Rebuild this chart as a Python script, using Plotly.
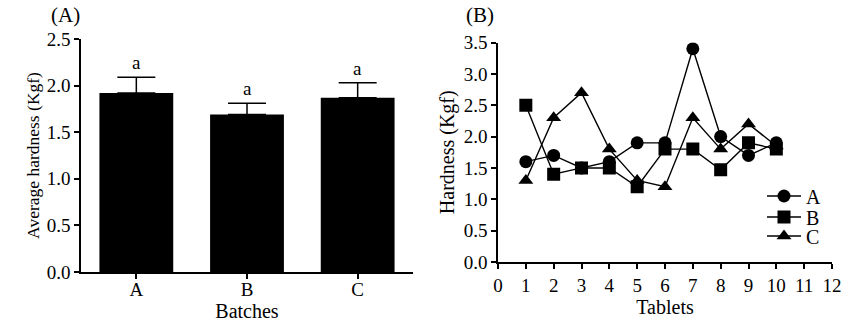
import plotly.graph_objects as go

# Panel A data
batches = ["A", "B", "C"]
avg_hardness = [1.92, 1.69, 1.87]
avg_err = [0.17, 0.12, 0.16]
sig_letters = ["a", "a", "a"]

# Panel B data
tablets = [1, 2, 3, 4, 5, 6, 7, 8, 9, 10]
hard_A = [1.6, 1.7, 1.5, 1.6, 1.9, 1.9, 3.4, 2.0, 1.7, 1.9]
hard_B = [2.5, 1.4, 1.5, 1.5, 1.2, 1.8, 1.8, 1.47, 1.9, 1.8]
hard_C = [1.3, 2.3, 2.7, 1.8, 1.3, 1.2, 2.3, 1.8, 2.2, 1.85]
series_names = ["A", "B", "C"]

W, H = 865, 322
FONT = "Liberation Serif"

def px_x(p):
    return p / W

def px_y(p):
    return (H - p) / H

fig = go.Figure()

fig.add_trace(go.Bar(
    x=batches, y=avg_hardness, width=0.667,
    marker=dict(color="black", line=dict(width=0)),
    error_y=dict(type="data", array=avg_err, arrayminus=[0] * len(avg_err),
                 symmetric=False, color="black", thickness=1.5, width=19),
    xaxis="x", yaxis="y", showlegend=False,
))

symbols = ["circle", "square", "triangle-up"]
legend_ids = ["legend", "legend2", "legend3"]
legend_rows = [196, 217, 236]
for name, vals, sym, lid in zip(series_names, [hard_A, hard_B, hard_C], symbols, legend_ids):
    fig.add_trace(go.Scatter(
        x=tablets, y=vals, mode="lines+markers", name=name,
        line=dict(color="black", width=1.4),
        marker=dict(symbol=sym, size=13, color="black"),
        xaxis="x2", yaxis="y2", legend=lid,
    ))

for b, v, e, t in zip(batches, avg_hardness, avg_err, sig_letters):
    fig.add_annotation(x=b, y=v + e, text=t, showarrow=False, xref="x", yref="y",
                       yanchor="bottom", yshift=2, font=dict(size=19, family=FONT, color="black"))

fig.add_annotation(x=px_x(49), y=px_y(15), xref="paper", yref="paper", text="(A)",
                   showarrow=False, xanchor="left", yanchor="middle",
                   font=dict(size=21, family=FONT, color="black"))
fig.add_annotation(x=px_x(464), y=px_y(15), xref="paper", yref="paper", text="(B)",
                   showarrow=False, xanchor="left", yanchor="middle",
                   font=dict(size=21, family=FONT, color="black"))

axis_common = dict(showgrid=False, zeroline=False, showline=True, linecolor="black",
                   linewidth=1.5, ticks="outside", ticklen=5, tickwidth=1.5,
                   tickcolor="black", automargin=False,
                   tickfont=dict(size=19, family=FONT, color="black"))

legend_common = dict(xanchor="left", yanchor="middle", bgcolor="rgba(0,0,0,0)",
                     font=dict(size=20, family=FONT, color="black"), itemwidth=34)

layout_legends = {}
for lid, row in zip(legend_ids, legend_rows):
    layout_legends[lid] = dict(**legend_common, x=px_x(762), y=px_y(row))

fig.update_layout(
    template="none",
    width=W, height=H,
    margin=dict(l=0, r=0, t=0, b=0, autoexpand=False),
    paper_bgcolor="white", plot_bgcolor="white",
    font=dict(family=FONT, color="black"),
    showlegend=True,
    xaxis=dict(**axis_common, domain=[px_x(81), px_x(413)], range=[-0.5, 2.5], type="category",
               ticklabelstandoff=-6,
               title=dict(text="Batches", font=dict(size=20, family=FONT), standoff=0)),
    yaxis=dict(**axis_common, domain=[px_y(272), px_y(39)], range=[0, 2.5], dtick=0.5,
               tickformat=".1f",
               title=dict(text="Average hardness (Kgf)", font=dict(size=17.5, family=FONT), standoff=3)),
    xaxis2=dict(**axis_common, domain=[px_x(498), px_x(832)], range=[0, 12], dtick=1,
                anchor="y2", ticklabelstandoff=0,
                title=dict(text="Tablets", font=dict(size=20, family=FONT), standoff=0)),
    yaxis2=dict(**axis_common, domain=[px_y(262), px_y(42.5)], range=[0, 3.5], dtick=0.5,
                tickformat=".1f", anchor="x2",
                title=dict(text="Hardness (Kgf)", font=dict(size=20, family=FONT), standoff=4)),
    bargap=0.333,
    **layout_legends,
)

fig.write_html("out.html", config={"displayModeBar": False},
               post_script="document.body.style.margin='0px';")
